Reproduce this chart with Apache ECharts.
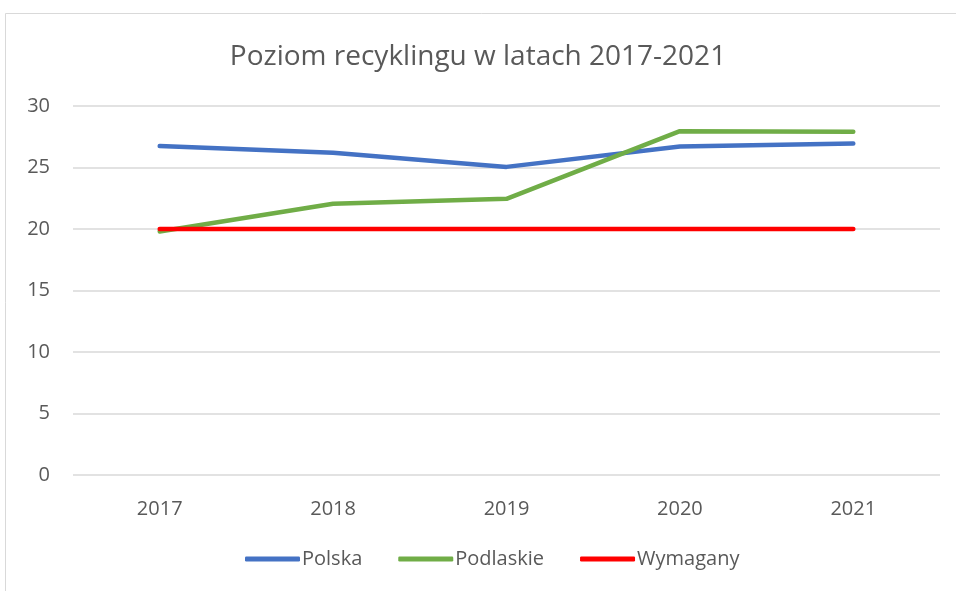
<!DOCTYPE html>
<html>
<head>
<meta charset="utf-8">
<script src="https://cdn.jsdelivr.net/npm/echarts@6/dist/echarts.min.js"></script>
<style>
  html, body { margin: 0; padding: 0; background: #fff; }
  #chart { width: 956px; height: 591px; }
</style>
</head>
<body>
<div id="chart"></div>
<script>
// Recycling levels 2017-2021 (%)
const years = ['2017', '2018', '2019', '2020', '2021'];
const polska = [26.75, 26.2, 25.05, 26.7, 26.95];
const podlaskie = [19.8, 22.05, 22.45, 27.95, 27.9];
const wymagany = [20, 20, 20, 20, 20];
const yTicks = [0, 5, 10, 15, 20, 25, 30];

const FONT = "'Open Sans', 'Liberation Sans', sans-serif";
const TEXT = '#595959';

const chart = echarts.init(document.getElementById('chart'), null, { renderer: 'canvas' });

function lineSeries(name, data, color) {
  return {
    name: name,
    type: 'line',
    data: data,
    symbol: 'none',
    smooth: false,
    lineStyle: { color: color, width: 4.5, cap: 'round', join: 'round' },
    itemStyle: { color: color }
  };
}

chart.setOption({
  animation: false,
  backgroundColor: '#fff',
  graphic: [{
    type: 'rect',
    shape: { x: 5.5, y: 13.5, width: 960, height: 600 },
    style: { fill: 'none', stroke: '#d9d9d9', lineWidth: 1 },
    silent: true
  }],
  title: {
    text: 'Poziom recyklingu w latach 2017-2021',
    left: 'center',
    top: 38,
    textStyle: { fontFamily: FONT, fontSize: 28, fontWeight: 'normal', color: TEXT }
  },
  legend: {
    bottom: 17,
    left: 240,
    icon: 'roundRect',
    itemWidth: 55,
    itemHeight: 5,
    itemGap: 36,
    textStyle: { fontFamily: FONT, fontSize: 20, color: TEXT, padding: [0, 0, 0, -3] },
    data: ['Polska', 'Podlaskie', 'Wymagany']
  },
  grid: { left: 73, right: 16, top: 106, bottom: 116, containLabel: false },
  xAxis: {
    type: 'category',
    data: years,
    boundaryGap: true,
    axisLine: { show: false },
    axisTick: { show: false },
    axisLabel: { margin: 24, fontFamily: FONT, fontSize: 20, color: TEXT }
  },
  yAxis: {
    type: 'value',
    min: yTicks[0],
    max: yTicks[yTicks.length - 1],
    interval: 5,
    axisLine: { show: false },
    axisTick: { show: false },
    axisLabel: { margin: 23, fontFamily: FONT, fontSize: 20, color: TEXT },
    splitLine: { lineStyle: { color: '#d9d9d9', width: 1.5 } }
  },
  series: [
    lineSeries('Polska', polska, '#4472C4'),
    lineSeries('Podlaskie', podlaskie, '#70AD47'),
    lineSeries('Wymagany', wymagany, '#FF0000')
  ]
});
</script>
</body>
</html>
